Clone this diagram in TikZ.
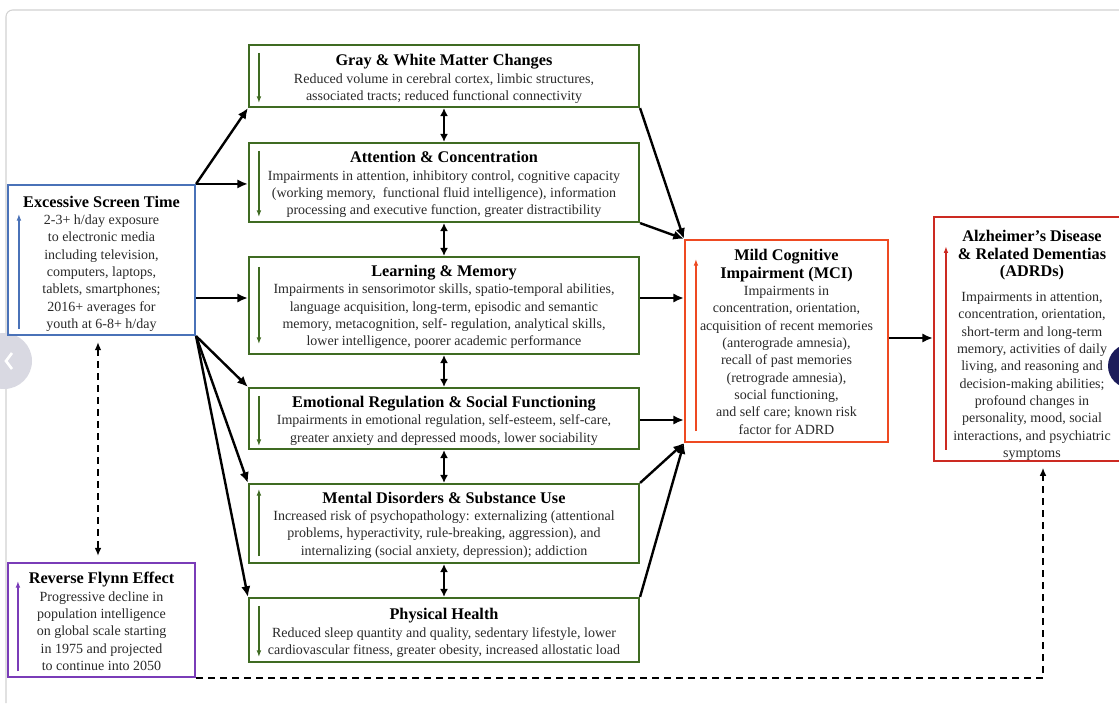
\documentclass[tikz,border=0pt]{standalone}
\usepackage{fontspec}
\setmainfont{Liberation Serif}
\usetikzlibrary{arrows.meta,calc}
\definecolor{bluebox}{HTML}{4A72B8}
\definecolor{purplebox}{HTML}{7A3CB8}
\definecolor{greenbox}{HTML}{3F6B22}
\definecolor{mcired}{HTML}{EE4A22}
\definecolor{adrdred}{HTML}{CC2A22}
\definecolor{bodytext}{HTML}{2A2A2A}
\definecolor{navycirc}{HTML}{1C1C5A}
\definecolor{graycirc}{HTML}{D9D9E2}
\newcommand\ttl[1]{{\fontsize{12.2}{13.5}\selectfont\bfseries\color{black}#1}}
\newcommand\ttls[2]{{\fontsize{12.2}{13.5}\selectfont\bfseries\color{black}\rule{0pt}{#1}#2}}
\begin{document}
\begin{tikzpicture}[x=0.75pt,y=-0.75pt,
  box/.style={draw, line width=1.6pt, inner sep=0pt, align=center,
    font=\fontsize{10.5}{13}\selectfont, text=bodytext},
  gbox/.style={box, draw=greenbox, minimum width=292.5pt},
  conn/.style={line width=1.8pt, -{Latex[length=8pt,width=7pt]}},
  dconn/.style={line width=1.8pt, {Latex[length=6pt,width=6pt]}-{Latex[length=6pt,width=6pt]}},
  inarrow/.style={line width=0.9pt, -{Latex[length=5pt,width=3.5pt]}},
  dashconn/.style={line width=1.5pt, dash pattern=on 5pt off 4pt}]
\useasboundingbox (0,0) rectangle (1119,703);
\fill[white] (0,0) rectangle (1119,703);
% screenshot frame and side buttons
\draw[gray!35, line width=0.8pt, rounded corners=5] (6,703) -- (6,10) -- (1125,10);
\fill[graycirc] (4,361) circle (28);
\draw[white, line width=2pt] (12,353) -- (6,361) -- (12,369);

% nodes
\node[box, draw=bluebox, minimum width=140.25pt, minimum height=112.5pt] (est) at (101.5,260)
  {\ttls{14pt}{Excessive Screen Time}\\ 2-3+ h/day exposure\\ to electronic media\\ including television,\\ computers, laptops,\\ tablets, smartphones;\\ 2016+ averages for\\ youth at 6-8+ h/day};
\node[box, draw=purplebox, minimum width=140.25pt, minimum height=85.5pt] (flynn) at (101.5,620)
  {\ttls{11pt}{Reverse Flynn Effect}\\ Progressive decline in\\ population intelligence\\ on global scale starting\\ in 1975 and projected\\ to continue into 2050};
\node[gbox, minimum height=46.5pt] (gw) at (444,76)
  {\ttls{13pt}{Gray \& White Matter Changes}\\ Reduced volume in cerebral cortex, limbic structures,\\ associated tracts; reduced functional connectivity};
\node[gbox, minimum height=59.25pt] (att) at (444,182.5)
  {\ttls{12pt}{Attention \& Concentration}\\ Impairments in attention, inhibitory control, cognitive capacity\\ (working memory,\ \ functional fluid intelligence), information\\ processing and executive function, greater distractibility};
\node[gbox, minimum height=72.75pt] (lm) at (444,305.5)
  {\ttls{11pt}{Learning \& Memory}\\ Impairments in sensorimotor skills, spatio-temporal abilities,\\ language acquisition, long-term, episodic and semantic\\ memory, metacognition, self- regulation, analytical skills,\\ lower intelligence, poorer academic performance};
\node[gbox, minimum height=45.75pt] (emo) at (444,418.5)
  {\ttls{12pt}{Emotional Regulation \& Social Functioning}\\ Impairments in emotional regulation, self-esteem, self-care,\\ greater anxiety and depressed moods, lower sociability};
\node[gbox, minimum height=59.25pt] (men) at (444,523.5)
  {\ttls{11pt}{Mental Disorders \& Substance Use}\\ Increased risk of psychopathology: externalizing (attentional\\ problems, hyperactivity, rule-breaking, aggression), and\\ internalizing (social anxiety, depression); addiction};
\node[gbox, minimum height=48pt] (phy) at (444,630)
  {\ttls{13pt}{Physical Health}\\ Reduced sleep quantity and quality, sedentary lifestyle, lower\\ cardiovascular fitness, greater obesity, increased allostatic load};
\node[box, draw=mcired, minimum width=152.25pt, minimum height=151.5pt] (mci) at (786.5,341)
  {\ttls{10pt}{Mild Cognitive}\\ \ttl{Impairment (MCI)}\\ Impairments in\\ concentration, orientation,\\ acquisition of recent memories\\ (anterograde amnesia),\\ recall of past memories\\ (retrograde amnesia),\\ social functioning,\\ and self care; known risk\\ factor for ADRD};
\node[box, draw=adrdred, minimum width=147pt, minimum height=181.5pt] (adrd) at (1032,339)
  {\ttls{18.5pt}{Alzheimer's Disease}\\ \ttl{\& Related Dementias}\\ \ttl{(ADRDs)}\\[5.75pt] Impairments in attention,\\ concentration, orientation,\\ short-term and long-term\\ memory, activities of daily\\ living, and reasoning and\\ decision-making abilities;\\ profound changes in\\ personality, mood, social\\ interactions, and psychiatric\\ symptoms};
\fill[navycirc] (1130,366) circle (22);

% inner trend arrows
\draw[inarrow, bluebox] ($(est.south west)+(12,-7)$) -- ($(est.north west)+(12,30)$);
\draw[inarrow, purplebox] ($(flynn.south west)+(11,-7)$) -- ($(flynn.north west)+(11,19)$);
\draw[inarrow, greenbox] ($(gw.north west)+(11,9)$) -- ($(gw.south west)+(11,-5)$);
\draw[inarrow, greenbox] ($(att.north west)+(11,9)$) -- ($(att.south west)+(11,-6)$);
\draw[inarrow, greenbox] ($(lm.north west)+(11,11)$) -- ($(lm.south west)+(11,-11)$);
\draw[inarrow, greenbox] ($(emo.north west)+(11,9)$) -- ($(emo.south west)+(11,-4)$);
\draw[inarrow, greenbox] ($(men.south west)+(11,-8)$) -- ($(men.north west)+(11,6)$);
\draw[inarrow, greenbox] ($(phy.north west)+(11,9)$) -- ($(phy.south west)+(11,-6)$);
\draw[inarrow, mcired] ($(mci.south west)+(12,-12)$) -- ($(mci.north west)+(12,20)$);
\draw[inarrow, adrdred] ($(adrd.south west)+(13,-12)$) -- ($(adrd.north west)+(13,30)$);

% connectors from screen time
\draw[conn] (est.north east) -- (gw.south west);
\draw[conn] (est.north east) -- (est.north east -| att.west);
\draw[conn] ($(est.east)+(0,38)$) -- ($(est.east -| lm.west)+(0,38)$);
\draw[conn] (est.south east) -- (emo.north west);
\draw[conn] (est.south east) -- (men.north west);
\draw[conn] (est.south east) -- (phy.north west);

% between domains
\draw[dconn] (gw.south) -- (att.north);
\draw[dconn] (att.south) -- (lm.north);
\draw[dconn] (lm.south) -- (emo.north);
\draw[dconn] (emo.south) -- (men.north);
\draw[dconn] (men.south) -- (phy.north);

% to MCI
\draw[conn] (gw.south east) -- (mci.north west);
\draw[conn] (att.south east) -- (mci.north west);
\draw[conn] ($(lm.east)+(0,-7.5)$) -- ($(lm.east -| mci.west)+(0,-7.5)$);
\draw[conn] ($(emo.east)+(0,1.5)$) -- ($(emo.east -| mci.west)+(0,1.5)$);
\draw[conn] (men.north east) -- (mci.south west);
\draw[conn] (phy.north east) -- (mci.south west);
\draw[conn] ($(mci.east)+(0,-3)$) -- ($(mci.east -| adrd.west)+(0,-3)$);

% dashed links
\draw[dashconn, {Latex[length=6pt,width=5pt]}-{Latex[length=6pt,width=5pt]}]
  ($(est.south)+(-3.5,6)$) -- ($(flynn.north)+(-3.5,-6)$);
\draw[dashconn, -{Latex[length=6pt,width=5pt]}]
  (flynn.south east) -| ($(adrd.south)+(11,6)$);
\end{tikzpicture}
\end{document}
